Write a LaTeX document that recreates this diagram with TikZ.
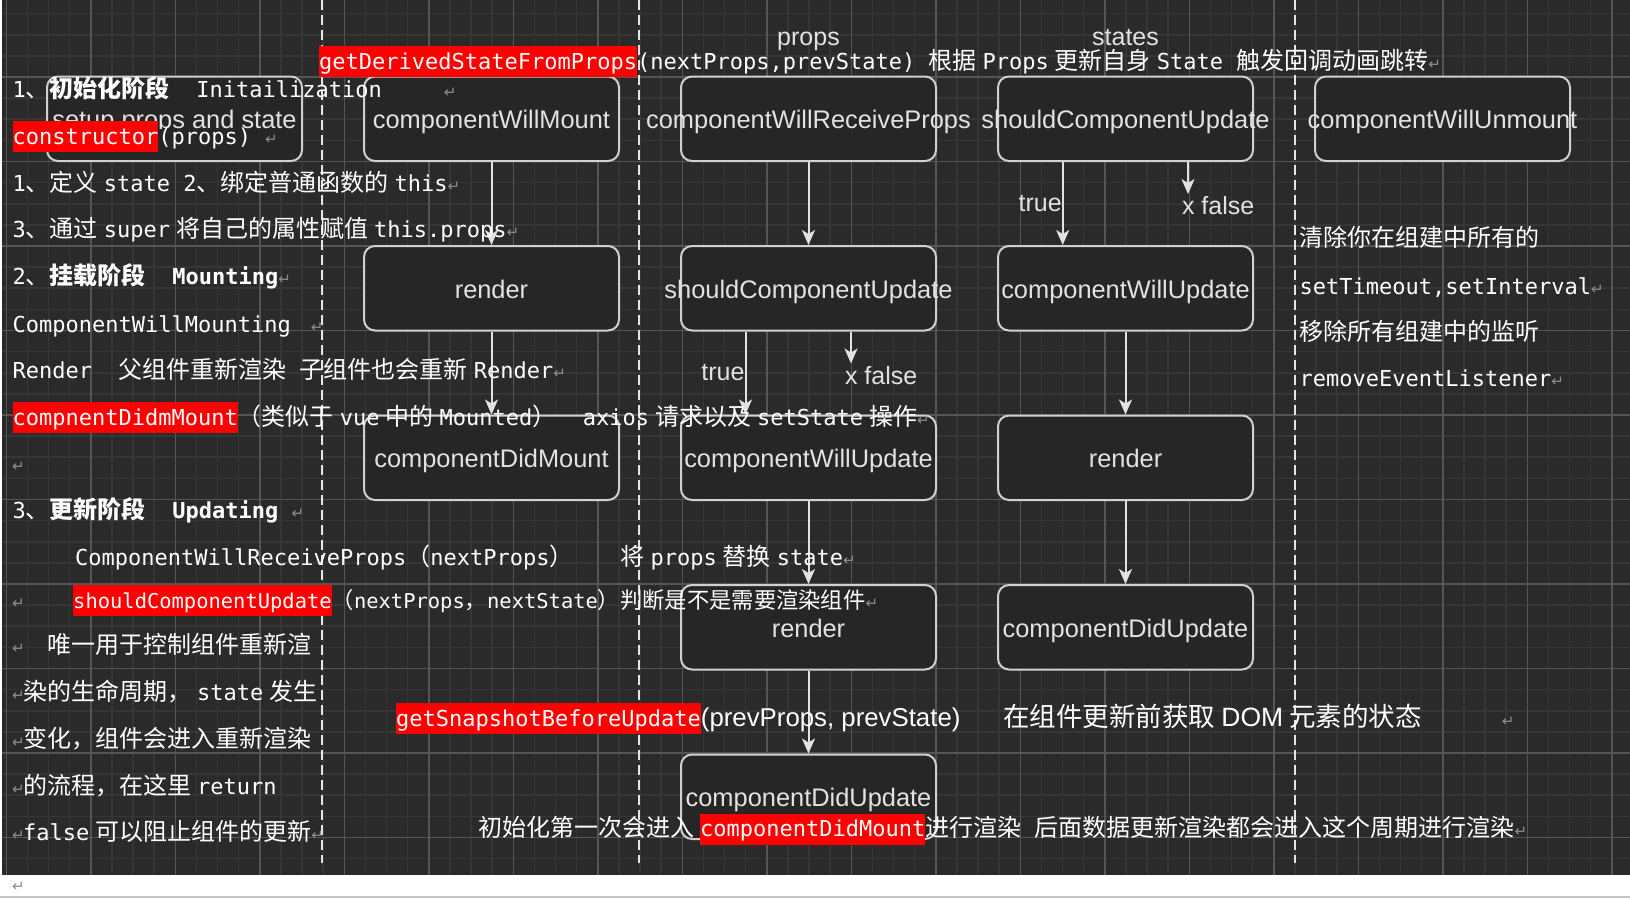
\documentclass[tikz,border=0pt]{standalone}
\usepackage{fontspec}
\usetikzlibrary{arrows.meta}
\setmainfont{Liberation Sans}
\setmonofont{DejaVu Sans Mono}[Scale=0.917]
\newfontfamily\cjk{Noto Sans CJK SC}
\newfontfamily\symb{DejaVu Sans}
\definecolor{bgdark}{HTML}{2A2A2A}
\definecolor{gridminor}{HTML}{363636}
\definecolor{gridmajor}{HTML}{555555}
\definecolor{boxline}{HTML}{D0D0D0}
\definecolor{boxfill}{HTML}{262626}
\definecolor{boxtext}{HTML}{E2E2E2}
\definecolor{hlred}{HTML}{FF0000}
\definecolor{retgray}{HTML}{8E8E8E}
\definecolor{pagegray}{HTML}{C4C4C4}
\newcommand{\zh}[1]{{\cjk #1}}
\newcommand{\gap}{\hspace{6pt}}
\newcommand{\ret}{{\symb\fontsize{15}{15}\selectfont\textcolor{retgray}{↵}}}
\newcommand{\hl}[1]{{\setlength{\fboxsep}{0pt}\colorbox{hlred}{\rule[-8pt]{0pt}{31pt}\textcolor{white}{#1}}}}
\newcommand{\lbl}[1]{\makebox[0pt]{\raisebox{-10pt}[0pt][0pt]{#1}}}
\newcommand{\lanes}{
    \coordinate (c0) at (174.5,0);
    \coordinate (c1) at (491.5,0);
    \coordinate (c2) at (808.5,0);
    \coordinate (c3) at (1125.5,0);
    \coordinate (c4) at (1442.5,0);

    \coordinate (r0) at (0,118.75);
    \coordinate (r1) at (0,288.25);
    \coordinate (r2) at (0,457.75);
    \coordinate (r3) at (0,627.25);
    \coordinate (r4) at (0,796.75);

    \coordinate (d1) at (322,0);
    \coordinate (d2) at (639,0);
    \coordinate (d3) at (1295,0);
}
\tikzset{
  lifebox/.style={draw=boxline, line width=2pt, fill=boxfill, rounded corners=11pt,
    minimum width=255pt, minimum height=84.5pt, inner sep=0pt, text=boxtext,
    font=\fontsize{25.4}{30}\selectfont},
  flow/.style={draw=boxtext, line width=2pt, -{Stealth[length=15pt,width=13pt,inset=4pt]}},
  lane/.style={draw=white!90!black, line width=2.2pt, dash pattern=on 10pt off 5pt},
  cond/.style={inner sep=0pt, text=boxtext, font=\fontsize{25}{30}\selectfont},
  line/.style={anchor=base west, inner sep=0pt, text=white, font=\ttfamily\fontsize{24}{29}\selectfont},
}

\begin{document}
\begin{tikzpicture}[x=1pt,y=-1pt]
\useasboundingbox (0,0) rectangle (1630,898);
\lanes;
\fill[bgdark] (2,0) rectangle (1630,875);
\begin{scope}
  \clip (2,0) rectangle (1630,875);
  \foreach \i in {0,...,76} \draw[gridminor, line width=1.6pt] ({6.3+21.125*\i},0) -- ({6.3+21.125*\i},875);
  \foreach \j in {0,...,40} \draw[gridminor, line width=1.6pt] (2,{13.6+21.125*\j}) -- (1630,{13.6+21.125*\j});
  \foreach \i in {0,...,19} \draw[gridmajor, line width=1.6pt] ({6.3+84.5*\i},0) -- ({6.3+84.5*\i},875);
  \foreach \j in {0,...,9} \draw[gridmajor, line width=1.6pt] (2,{77+84.5*\j}) -- (1630,{77+84.5*\j});
\end{scope}
\draw[pagegray, line width=1.5pt] (0,897) -- (1630,897);

\draw[lane] (d1) -- ++(0,863);
\draw[lane] (d2) -- ++(0,863);
\draw[lane] (d3) -- ++(0,863);

% lifecycle boxes
\node[lifebox] (setup) at (c0 |- r0) {};
\begin{scope}
  \clip (47,76.5) rectangle (302,128);
  \node[cond, font=\fontsize{25.4}{30}\selectfont] (setupText) at (setup) {\lbl{setup props and state}};
\end{scope}
\node[lifebox] (willMount) at (c1 |- r0) {\lbl{componentWillMount}};
\node[lifebox] (mRender) at (c1 |- r1) {\lbl{render}};
\node[lifebox] (didMount) at (c1 |- r2) {\lbl{componentDidMount}};

\node[lifebox] (willReceive) at (c2 |- r0) {\lbl{componentWillReceiveProps}};
\node[lifebox] (pShould) at (c2 |- r1) {\lbl{shouldComponentUpdate}};
\node[lifebox] (pWillUpdate) at (c2 |- r2) {\lbl{componentWillUpdate}};
\node[lifebox] (pRender) at (c2 |- r3) {\lbl{render}};
\node[lifebox] (pDidUpdate) at (c2 |- r4) {\lbl{componentDidUpdate}};

\node[lifebox] (sShould) at (c3 |- r0) {\lbl{shouldComponentUpdate}};
\node[lifebox] (sWillUpdate) at (c3 |- r1) {\lbl{componentWillUpdate}};
\node[lifebox] (sRender) at (c3 |- r2) {\lbl{render}};
\node[lifebox] (sDidUpdate) at (c3 |- r3) {\lbl{componentDidUpdate}};

\node[lifebox] (willUnmount) at (c4 |- r0) {\lbl{componentWillUnmount}};

\node[cond, anchor=base] (propsLbl) at (808.5,45) {props};
\node[cond, anchor=base] (statesLbl) at (1125.5,45) {states};

\draw[flow] (willMount) -- (mRender);
\draw[flow] (mRender) -- (didMount);

\draw[flow] (willReceive) -- (pShould);
\draw[flow] ([xshift=-63pt]pShould.south) -- ([xshift=-63pt]pWillUpdate.north)
  node[cond, midway, anchor=east] (pYes) {true};
\draw[flow] ([xshift=42.5pt]pShould.south) -- ++(0,32) coordinate (pStop);
\node[cond, anchor=west] (pNo) at ([xshift=-6.2pt,yshift=-12pt]pStop) {x false};
\draw[flow] (pWillUpdate) -- (pRender);
\draw[flow] (pRender) -- (pDidUpdate);

\draw[flow] ([xshift=-62.8pt]sShould.south) -- ([xshift=-62.8pt]sWillUpdate.north)
  node[cond, midway, anchor=east] (sYes) {true};
\draw[flow] ([xshift=62.5pt]sShould.south) -- ++(0,32) coordinate (sStop);
\node[cond, anchor=west] (sNo) at ([xshift=-6.2pt,yshift=-12pt]sStop) {x false};
\draw[flow] (sWillUpdate) -- (sRender);
\draw[flow] (sRender) -- (sDidUpdate);

% notes
\node[line] (t1) at (319,69) {\hl{getDerivedStateFromProps}(nextProps,prevState)\ \zh{根据}\gap Props\gap\zh{更新自身}\gap State\ \zh{触发回调动画跳转}\ret};
\node[line] (t2) at (12.5,97.5) {1\zh{、}\textbf{\zh{初始化阶段}}\ \ Initailization\hspace{62pt}\ret};
\node[line] (t3) at (12.5,144) {\hl{constructor}(props)\hspace{14pt}\ret};
\node[line] (t4) at (12.5,191) {1\zh{、定义}\gap state 2\zh{、绑定普通函数的}\gap this\ret};
\node[line] (t5) at (12.5,237) {3\zh{、通过}\gap super\gap\zh{将自己的属性赋值}\gap this.props\ret};
\node[line] (t6) at (12.5,284.5) {2\zh{、}\textbf{\zh{挂载阶段}}\ \ \textbf{Mounting}\ret};
\node[line] (t7) at (12.5,332) {ComponentWillMounting\hspace{20pt}\ret};
\node[line] (t8) at (12.5,378) {Render\ \ \zh{父组件重新渲染}\ \zh{子组件也会重新}\gap Render\ret};
\node[line] (t9) at (12.5,425) {\hl{compnentDidmMount}\zh{（类似于}\gap vue\gap\zh{中的}\gap Mounted\zh{）}\ \ axios\gap\zh{请求以及}\gap setState\gap\zh{操作}\ret};
\node[line] (t10) at (12,471.6) {\ret};
\node[line] (t11) at (12.5,518) {3\zh{、}\textbf{\zh{更新阶段}}\ \ \textbf{Updating}\ \ret};
\node[line] (t12) at (75,565) {ComponentWillReceiveProps\zh{（}nextProps\zh{）}\hspace{47pt}\zh{将}\gap props\gap\zh{替换}\gap state\ret};
\node[line] (t13a) at (12,608) {\ret};
\node[line, font=\ttfamily\fontsize{22.3}{27}\selectfont] (t13) at (73,608) {\hl{shouldComponentUpdate}\zh{（}nextProps\zh{，}nextState\zh{）判断是不是需要渲染组件}\ret};
\node[line] (t14a) at (12,653.5) {\ret};
\node[line] (t14) at (47,653.5) {\zh{唯一用于控制组件重新渲}};
\node[line] (t15a) at (12,700) {\ret};
\node[line] (t15) at (23,700) {\zh{染的生命周期，}\gap state\gap\zh{发生}};
\node[line] (t16a) at (12,747) {\ret};
\node[line] (t16) at (23,747) {\zh{变化，组件会进入重新渲染}};
\node[line] (t17a) at (12,794) {\ret};
\node[line] (t17) at (23,794) {\zh{的流程，在这里}\gap return};
\node[line] (t18a) at (12,840) {\ret};
\node[line] (t18) at (23,840) {false\gap\zh{可以阻止组件的更新}\ret};
\node[line] (t19) at (396,726) {\hl{getSnapshotBeforeUpdate}{\rmfamily\fontsize{25.8}{30}\selectfont(prevProps, prevState)}\hspace{43pt}{\fontsize{26.5}{30}\selectfont\zh{在组件更新前获取}\gap{\rmfamily DOM}\gap\zh{元素的状态}}\hspace{80pt}\ret};
\node[line] (t20) at (478,836.5) {\zh{初始化第一次会进入}\gap\hl{componentDidMount}\zh{进行渲染}\ \zh{后面数据更新渲染都会进入这个周期进行渲染}\ret};
\node[line] (t21) at (1299.5,246) {\zh{清除你在组建中所有的}};
\node[line] (t22) at (1299.5,294) {setTimeout,setInterval\ret};
\node[line] (t23) at (1299.5,340.6) {\zh{移除所有组建中的监听}};
\node[line] (t24) at (1299.5,386) {removeEventListener\ret};
\node[line] (t25) at (12,891) {\ret};
\end{tikzpicture}
\end{document}
